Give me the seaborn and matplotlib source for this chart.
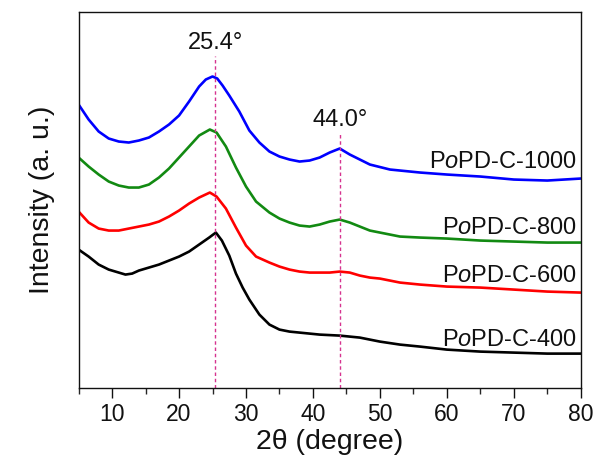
import pandas as pd
import matplotlib
matplotlib.use('Agg')
import matplotlib.pyplot as plt
import seaborn as sns
from matplotlib.ticker import MultipleLocator

# ----- Data (stacked intensities in a.u.) -----
x_1000 = [5, 6.5, 8, 9.5, 11, 12.5, 14, 15.5, 17, 18.5, 20, 21.5, 23, 24, 25, 25.7, 26.5,
          27.5, 29, 30.5, 32, 33.5, 35, 36.5, 38, 39.5, 41, 42.5, 44, 45.5, 47, 48.5, 51.5,
          56, 60, 65, 70, 75, 80]
y_1000 = [283, 268, 256, 249, 246, 245, 247, 250, 256, 263, 272, 286, 301, 308, 311, 309, 302,
          292, 276, 257, 245, 236, 231, 228, 226, 227, 230, 235, 239, 233, 228, 223, 218,
          215, 213, 211, 208, 207, 209]

x_800 = [5, 6.5, 8, 9.5, 11, 12.5, 14, 15.5, 17, 18.5, 20, 21.5, 23, 24.6, 25.6, 27, 28.5,
         30, 31.5, 33.5, 35, 36.5, 38, 39.5, 41, 42.5, 44, 45.5, 47, 48.5, 50, 53, 56,
         60, 65, 70, 75, 80]
y_800 = [230, 221, 213, 206, 202, 200, 200, 203, 210, 219, 230, 241, 252, 258, 255, 241, 220,
         201, 186, 175, 169, 165, 162, 161, 163, 166, 168, 165, 161, 157, 155, 151, 150,
         149, 147, 146, 145, 145]

x_600 = [5, 6.5, 8, 9.5, 11, 12.5, 14, 15.5, 17, 18.5, 20, 21.5, 23, 24.6, 25.6, 27, 28.5,
         30, 31.5, 33.5, 35, 36.5, 38, 39.5, 41, 42.5, 44, 45.5, 47, 48.5, 50, 53, 56,
         60, 65, 70, 75, 80]
y_600 = [176, 165, 159, 157, 157, 159, 161, 163, 166, 171, 177, 184, 190, 195, 191, 179, 160,
         142, 131, 125, 121, 118, 116, 115, 115, 115, 116, 115, 112, 110, 109, 105, 103,
         101, 100, 98, 96, 95]

x_400 = [5, 6.5, 8, 9.5, 11, 12, 13, 14, 15.5, 17, 18.5, 20, 21.5, 23, 24.5, 25.5, 26.4,
         27.5, 28.5, 29.5, 30.5, 32, 33.5, 35, 36.5, 38, 39.5, 41, 44, 45.5, 47, 48.5, 50, 53,
         56, 60, 65, 70, 75, 80]
y_400 = [138, 131, 123, 118, 115, 113, 114, 117, 120, 123, 127, 131, 136, 143, 150, 155, 147,
         132, 114, 100, 88, 73, 63, 58, 56, 55, 54, 53, 52, 51, 50, 48, 46, 43,
         41, 38, 36, 35, 34, 34]

series_names = ['PoPD-C-1000', 'PoPD-C-800', 'PoPD-C-600', 'PoPD-C-400']
series_colors = ['#0000ff', '#128a12', '#ff0000', '#000000']
label_text = [r'P$\it{o}$PD-C-1000', r'P$\it{o}$PD-C-800', r'P$\it{o}$PD-C-600', r'P$\it{o}$PD-C-400']
label_y = [226, 160, 112, 48]

peak_pos = [25.4, 44.0]
peak_text = ['25.4°', '44.0°']
peak_line_top = [331, 255]
peak_text_y = [344, 268]

frames = []
for name, xs, ys in zip(series_names, [x_1000, x_800, x_600, x_400],
                        [y_1000, y_800, y_600, y_400]):
    frames.append(pd.DataFrame({'2theta': xs, 'Intensity': ys, 'Sample': name}))
df = pd.concat(frames, ignore_index=True)

# ----- Plot -----
sns.set_theme(style='ticks')
plt.rcParams['font.family'] = ['Liberation Sans', 'DejaVu Sans']
plt.rcParams['mathtext.fontset'] = 'custom'
plt.rcParams['mathtext.rm'] = 'Liberation Sans'
plt.rcParams['mathtext.it'] = 'Liberation Sans:italic'

fig = plt.figure(figsize=(6, 4.62), dpi=100)
ax = fig.add_axes([0.131, 0.161, 0.837, 0.812])

sns.lineplot(data=df, x='2theta', y='Intensity', hue='Sample', hue_order=series_names,
             palette=series_colors, linewidth=1.9, legend=False, ax=ax)

for xp, top, txt, ty in zip(peak_pos, peak_line_top, peak_text, peak_text_y):
    ax.plot([xp, xp], [0, top], color='#d6338f', lw=1.0, ls=(0, (2.5, 2.0)))
    ax.text(xp, ty, txt, ha='center', va='center', fontsize=17, color='#111111')

for txt, ly in zip(label_text, label_y):
    ax.text(79.5, ly, txt, ha='right', va='center', fontsize=17, color='#111111')

ax.set_xlim(5, 80)
ax.set_ylim(0, 375)
ax.xaxis.set_minor_locator(MultipleLocator(5))
ax.set_xticks([10, 20, 30, 40, 50, 60, 70, 80])
ax.set_yticks([])
ax.tick_params(axis='x', which='major', direction='out', length=7, width=1, labelsize=16.5,
               colors='#111111', pad=4)
ax.tick_params(axis='x', which='minor', direction='out', length=4, width=1)
for s in ax.spines.values():
    s.set_visible(True)
    s.set_color('#111111')
    s.set_linewidth(1.0)

ax.set_xlabel('2θ (degree)', fontsize=20.5, color='#111111', labelpad=2)
ax.set_ylabel('Intensity (a. u.)', fontsize=20.5, color='#111111', labelpad=17)

fig.savefig('out.png', dpi=100)
